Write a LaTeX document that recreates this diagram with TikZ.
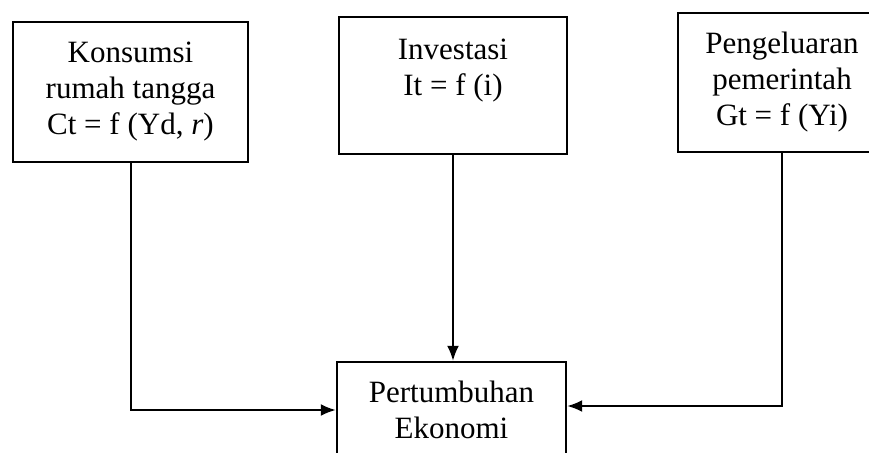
\documentclass[tikz,border=0pt]{standalone}
\usepackage{fontspec}
\setmainfont{Liberation Serif}
\usetikzlibrary{arrows.meta}
\tikzset{
  blok/.style={draw=black,line width=1.2pt,align=center,inner sep=0pt,
    font=\fontsize{15.5}{18}\selectfont},
  panah/.style={-{Latex[length=7.5pt,width=6pt]},line width=1pt},
}

\begin{document}
\begin{tikzpicture}[x=0.5pt,y=-0.5pt]
  \useasboundingbox (0,0) rectangle (869,452);
  \node[blok,minimum width=117.5pt,minimum height=70pt] (kons) at (130.5,92)
    {Konsumsi\\rumah tangga\\Ct = f (Yd, \textit{r})};
  \node[blok,minimum width=114pt,minimum height=68.5pt] (inv) at (453,85.5)
    {Investasi\\It = f (i)\\ ~};
  \node[blok,minimum width=104pt,minimum height=69.5pt] (gov) at (782,82.5)
    {Pengeluaran\\pemerintah\\Gt = f (Yi)};
  \node[blok,minimum width=114.5pt,minimum height=48pt] (growth) at (451.5,410)
    {Pertumbuhan\\Ekonomi};
  % arus ke pertumbuhan
  \draw[panah] (kons.south) |- (growth.west);
  \draw[panah] (inv.south) -- (inv.south |- growth.north);
  \draw[panah] (gov.south) |- ([yshift=2pt]growth.east);
\end{tikzpicture}
\end{document}
